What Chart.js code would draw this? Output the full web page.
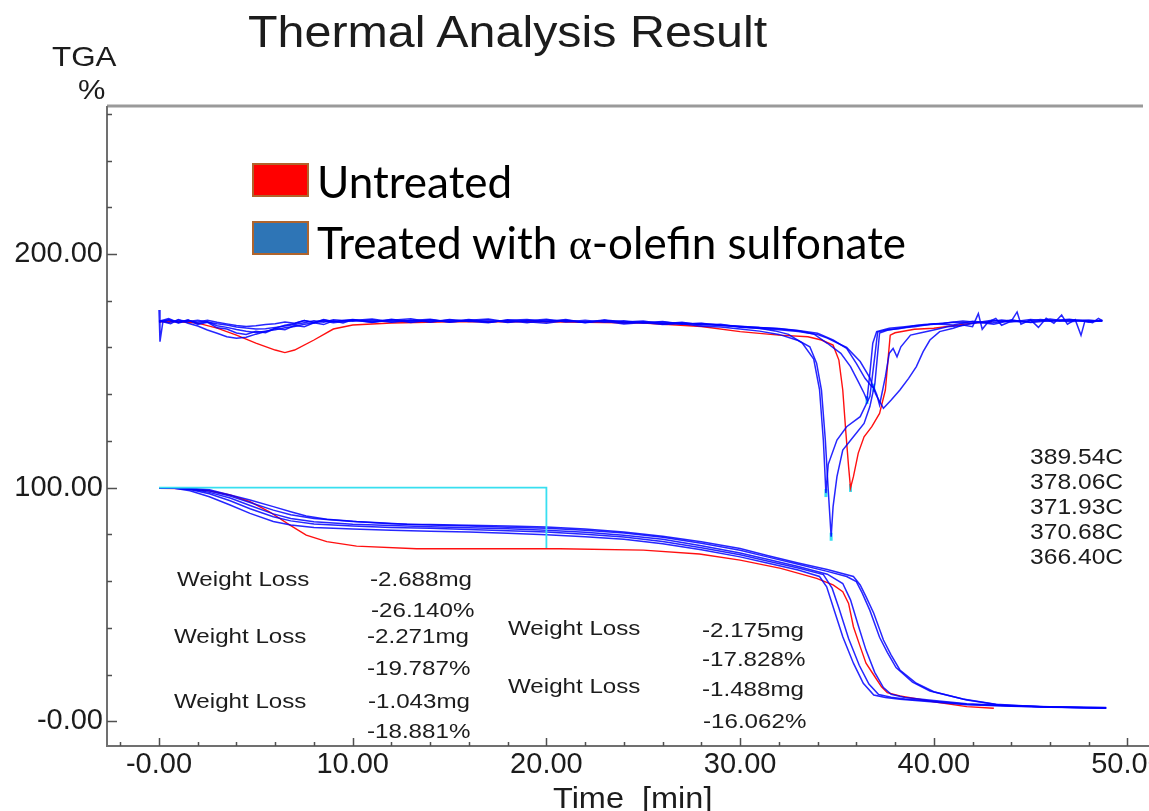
<!DOCTYPE html>
<html>
<head>
<meta charset="utf-8">
<title>Thermal Analysis Result</title>
<script src="https://cdn.jsdelivr.net/npm/chart.js@4.4.1/dist/chart.umd.min.js"></script>
<style>
  body { margin: 0; background: #fff; overflow: hidden; }
  #wrap { position: relative; width: 1149px; height: 811px; }
  #tga { position: absolute; left: 0; top: 0; }
  .t { position: absolute; white-space: pre; line-height: 1; color: #1c1c1c;
       font-family: 'Liberation Sans', Arial, sans-serif; transform-origin: 0 0; }
  .wl { font-size: 21px; transform: scaleX(1.15); }
  .tc { font-size: 22px; transform: scaleX(1.12); }
  .box { position: absolute; width: 57px; height: 34px; box-sizing: border-box; border: 2px solid #b0642c; }
  .lg { position: absolute; white-space: pre; line-height: 1; font-family: Lato, 'Open Sans', sans-serif;
        font-size: 44px; color: #000; }
</style>
</head>
<body>
<div id="wrap">
  <canvas id="tga" width="1149" height="811"></canvas>

  <div class="t" style="left:248px;top:10px;font-size:44px;transform:scaleX(1.1)">Thermal Analysis Result</div>
  <div class="t" style="left:52px;top:43px;font-size:28px;transform:scaleX(1.12)">TGA</div>
  <div class="t" style="left:78px;top:76px;font-size:28px;transform:scaleX(1.1)">%</div>
  <div class="t" style="left:553px;top:784px;font-size:29px;transform:scaleX(1.12)">Time  [min]</div>

  <div class="box" style="left:252px;top:163px;background:#ff0000"></div>
  <div class="box" style="left:252px;top:221px;background:#2e75b6"></div>
  <div class="lg" style="left:317px;top:159px">Untreated</div>
  <div class="lg" style="left:317px;top:220px">Treated with <span style="font-family:'Liberation Serif',serif">α</span>-olefin sulfonate</div>

  <div class="t wl" style="left:177px;top:568px">Weight Loss</div>
  <div class="t wl" style="left:370px;top:568px">-2.688mg</div>
  <div class="t wl" style="left:371px;top:599px">-26.140%</div>
  <div class="t wl" style="left:174px;top:625px">Weight Loss</div>
  <div class="t wl" style="left:367px;top:625px">-2.271mg</div>
  <div class="t wl" style="left:367px;top:657px">-19.787%</div>
  <div class="t wl" style="left:174px;top:690px">Weight Loss</div>
  <div class="t wl" style="left:368px;top:690px">-1.043mg</div>
  <div class="t wl" style="left:367px;top:720px">-18.881%</div>
  <div class="t wl" style="left:508px;top:617px">Weight Loss</div>
  <div class="t wl" style="left:508px;top:675px">Weight Loss</div>
  <div class="t wl" style="left:702px;top:619px">-2.175mg</div>
  <div class="t wl" style="left:702px;top:648px">-17.828%</div>
  <div class="t wl" style="left:702px;top:678px">-1.488mg</div>
  <div class="t wl" style="left:703px;top:710px">-16.062%</div>

  <div class="t tc" style="left:1030px;top:446px">389.54C</div>
  <div class="t tc" style="left:1030px;top:471px">378.06C</div>
  <div class="t tc" style="left:1030px;top:496px">371.93C</div>
  <div class="t tc" style="left:1030px;top:521px">370.68C</div>
  <div class="t tc" style="left:1030px;top:546px">366.40C</div>
</div>

<script>
// axis ticks: minor every 2 min / 20 %, labelled majors
const timeTicks = [-2, 0, 2, 4, 6, 8, 10, 12, 14, 16, 18, 20, 22, 24, 26, 28, 30, 32, 34, 36, 38, 40, 42, 44, 46, 48, 50];
const timeMajor = [0, 10, 20, 30, 40, 50];
const timeMajorLabels = ['-0.00', '10.00', '20.00', '30.00', '40.00', '50.00'];
const tgaTicks = [0, 20, 40, 60, 80, 100, 120, 140, 160, 180, 200, 220, 240, 260];
const tgaMajor = [0, 100, 200];
const tgaMajorLabels = ['-0.00', '100.00', '200.00'];

// derivative traces (plotted offset around 171) - [time min, value]
const redDtg = [[0,171.0],[1,171.0],[2,170.4],[3,168.3],[4,165.3],[5,161.9],[6,158.9],[6.5,157.8],[7,158.9],[8,163.2],[9,167.9],[10,169.6],[12,170.5],[15,171.0],[20,171.0],[25,170.5],[28,169.0],[30,166.8],[32,165.3],[33.5,164.6],[34.2,163.2],[34.8,161.0],[35.1,154.6],[35.3,141.8],[35.45,124.7],[35.6,109.0],[35.7,99.9],[35.85,104.7],[36.1,114.8],[36.4,121.8],[36.8,126.1],[37.2,131.8],[37.5,141.8],[37.65,156.0],[37.75,165.3],[38,166.3],[39,167.8],[40,168.2],[42,170.4],[43,171.0]];

const blueDtgA = [[0,171.2],[0.5,172.4],[1,170.6],[1.5,171.8],[2,169.9],[2.5,170.8],[3,168.4],[3.5,167.9],[4,166.2],[4.5,165.6],[5,166.9],[5.5,166.3],[6,168.1],[6.5,167.6],[7,169.4],[7.5,168.9],[8,170.6],[8.5,169.8],[9,171.4],[9.5,170.5],[10,171.8],[11,170.7],[12,172.1],[13,171.0],[14,171.9],[15,170.8],[16,171.6],[17,172.2],[18,170.9],[19,171.7],[20,171.1],[21,172.0],[22,170.6],[23,171.5],[24,170.9],[25,171.3],[26,170.2],[27,170.8],[28,169.6],[29,169.9],[30,168.7],[31,168.2],[31.8,167.1],[32.5,165.6],[33.2,162.0],[33.8,155.0],[34.1,142.0],[34.3,120.0],[34.43,97.7],[34.55,110.0],[35.0,120.4],[35.5,126.1],[36.2,130.4],[36.7,139.0],[36.95,156.0],[37.1,166.6],[37.6,167.6],[38.2,168.0],[39,169.3],[40,169.9],[41,170.8],[42,170.4],[43,171.6],[44,170.9],[45,172.0],[46,171.2],[47,171.9],[48,171.0],[48.7,171.6]];

const blueDtgB = [[0,176.0],[0.05,162.5],[0.2,171.0],[0.6,170.2],[1,171.9],[1.5,170.4],[2,169.2],[2.5,167.5],[3,166.1],[3.5,164.6],[4,164.0],[4.5,164.4],[5,165.7],[5.5,166.8],[6,168.2],[6.5,169.5],[7,170.3],[7.5,171.5],[8,170.6],[8.5,172.0],[9,171.1],[10,171.9],[11,170.8],[12,171.6],[13,172.3],[14,170.9],[15,171.8],[16,171.2],[17,170.6],[18,171.9],[19,171.0],[20,170.4],[21,171.5],[22,170.8],[23,171.2],[24,170.1],[25,170.7],[26,169.8],[27,170.2],[28,169.1],[29,168.8],[30,167.9],[31,167.0],[32,165.6],[33,163.0],[33.6,160.3],[33.95,153.3],[34.2,141.8],[34.4,120.4],[34.55,99.0],[34.7,79.0],[34.8,91.9],[35.0,104.7],[35.3,116.1],[35.85,121.8],[36.4,127.5],[36.7,134.7],[36.96,144.7],[37.2,166.2],[37.6,167.4],[38.3,168.3],[39,168.9],[40,170.1],[41,169.6],[42,171.2],[43,170.5],[44,171.8],[45,170.7],[46,171.4],[47,172.1],[48,170.9],[48.7,171.4]];

const blueDtgC = [[0,170.8],[0.5,171.9],[1,170.9],[1.5,171.6],[2,170.4],[2.5,171.0],[3,169.3],[3.5,168.6],[4,167.7],[4.5,166.9],[5,166.4],[5.5,167.0],[6,167.6],[6.5,168.4],[7,169.0],[7.5,169.9],[8,170.5],[8.5,171.3],[9,170.6],[10,171.5],[11,172.2],[12,171.0],[13,171.7],[14,170.9],[15,172.0],[16,171.1],[17,171.8],[18,170.7],[19,171.4],[20,172.1],[21,170.9],[22,171.6],[23,170.8],[24,171.4],[25,170.5],[26,170.9],[27,170.1],[28,170.4],[29,169.5],[30,169.0],[31,168.6],[32,168.0],[33,167.2],[33.8,165.8],[34.5,161.8],[35.2,157.5],[35.7,151.8],[36.1,145.4],[36.4,140.4],[36.55,137.5],[36.7,149.0],[36.85,161.8],[37.05,166.8],[37.7,168.2],[38.5,168.9],[39.5,169.8],[40.5,170.4],[41.5,171.3],[42.5,170.6],[43.5,171.8],[44.5,170.9],[45.5,172.0],[46.5,171.2],[47.5,171.8],[48.7,171.3]];

const blueDtgD = [[0,171.5],[0.5,170.7],[1,171.8],[1.5,171.1],[2,171.6],[2.5,170.9],[3,170.2],[3.5,169.6],[4,168.8],[4.5,168.3],[5,167.9],[5.5,168.0],[6,168.6],[6.5,169.2],[7,169.8],[7.5,170.6],[8,171.4],[8.5,170.8],[9,171.9],[10,171.2],[11,171.8],[12,170.8],[13,171.5],[14,172.1],[15,170.9],[16,171.6],[17,170.8],[18,171.7],[19,172.0],[20,171.0],[21,171.6],[22,170.9],[23,171.8],[24,171.0],[25,170.6],[26,171.1],[27,170.0],[28,170.3],[29,169.6],[30,169.1],[31,168.5],[32,168.1],[33,167.3],[34,166.1],[34.8,163.2],[35.5,159.6],[36,153.2],[36.45,146.8],[36.8,143.2],[36.9,142.8],[37.05,140.0],[37.2,135.4],[37.5,147.5],[37.7,157.5],[37.9,159.6],[38.1,156.0],[38.3,160.3],[38.8,165.3],[39.4,166.4],[40,167.5],[40.7,168.9],[41.5,169.4],[42.3,170.8],[43.1,169.9],[44,171.6],[45,170.8],[46,172.2],[47,171.0],[48,171.7],[48.7,171.2]];

const blueDtgE = [[0,171.0],[0.5,171.7],[1,170.5],[1.5,171.4],[2,170.9],[2.5,171.6],[3,170.8],[3.5,170.1],[4,169.4],[4.5,169.0],[5,169.3],[5.5,169.8],[6,170.2],[6.5,170.9],[7,170.4],[7.5,171.5],[8,170.8],[8.5,171.7],[9,171.0],[10,172.0],[11,171.1],[12,171.9],[13,170.7],[14,171.6],[15,171.2],[16,172.0],[17,170.9],[18,171.5],[19,170.6],[20,171.8],[21,171.2],[22,170.7],[23,171.6],[24,170.5],[25,171.0],[26,170.3],[27,170.6],[28,169.8],[29,169.4],[30,168.9],[31,168.1],[32,167.6],[33,166.8],[34,165.5],[34.5,164.0],[35.5,160.0],[36.2,154.0],[36.7,147.0],[37.0,140.0],[37.4,134.0],[37.8,137.5],[38.25,141.8],[38.7,146.8],[39.1,151.8],[39.45,158.2],[39.8,163.2],[40.3,166.8],[41,168.2],[41.5,169.6],[42,168.9],[42.3,174.5],[42.5,167.8],[42.8,170.9],[43.2,172.4],[43.5,169.5],[44,171.3],[44.3,175.2],[44.5,170.0],[45,171.8],[45.4,168.6],[45.8,172.5],[46.2,170.4],[46.6,173.9],[46.9,169.9],[47.3,171.9],[47.6,165.2],[47.8,171.3],[48.2,170.6],[48.5,172.4],[48.7,171.5]];

// weight curves (%)
const redTga = [[0,99.7],[1,99.6],[1.6,99.3],[2.6,98.7],[3.67,96.9],[4.7,94.0],[5.7,89.7],[6.76,84.0],[7.6,79.7],[8.66,76.9],[10.2,75.0],[13.3,73.9],[20.7,73.9],[25,73.3],[27.9,71.6],[30,69.0],[32.1,65.5],[33.95,61.2],[34.8,58.4],[35.3,55.5],[35.6,50.5],[35.85,40.5],[36.2,32.0],[36.5,24.9],[36.96,19.1],[37.3,14.8],[37.6,12.3],[38.25,10.9],[40,8.4],[41.7,6.3],[43.1,5.6]];

const blueTga1 = [[0,100],[0.8,99.8],[1.6,98.7],[2.6,96.1],[3.67,92.6],[4.7,89.0],[5.9,85.5],[6.8,84.0],[8,83.0],[10,82.3],[12,81.8],[14,81.4],[16,81.0],[18,80.5],[20,79.9],[22,79.0],[24,77.9],[26,76.0],[28,73.4],[30,70.4],[31.4,67.8],[33,64.8],[34.1,62.0],[34.47,57.6],[34.8,49.1],[35.3,36.2],[35.85,24.9],[36.36,16.3],[36.9,11.3],[37.5,10.2],[38.25,9.5],[40,8.3],[41.7,7.1],[44,6.5],[46,6.1],[48.9,5.7]];
const blueTga2 = [[0,100],[0.8,99.8],[1.6,99.2],[2.6,97.4],[3.67,94.4],[4.7,91.0],[5.9,87.6],[6.8,85.8],[8,84.5],[10,83.6],[12,83.0],[14,82.6],[16,82.1],[18,81.6],[20,81.0],[22,80.1],[24,78.9],[26,77.0],[28,74.3],[30,71.3],[31.4,68.6],[33,65.6],[34.3,62.8],[34.75,57.0],[35.1,48.5],[35.6,35.5],[36.15,24.0],[36.65,16.0],[37.15,11.5],[37.8,10.3],[38.5,9.6],[40,8.6],[41.7,7.3],[44,6.6],[46,6.2],[48.9,5.8]];
const blueTga3 = [[0,100],[0.8,99.9],[1.6,99.4],[2.6,98.0],[3.67,95.6],[4.7,92.4],[5.9,88.8],[6.8,86.8],[8,85.4],[10,84.4],[12,83.8],[14,83.3],[16,82.9],[18,82.4],[20,81.8],[22,80.9],[24,79.7],[26,77.9],[28,75.2],[30,72.1],[31.4,69.4],[33,66.3],[34.5,63.0],[35.3,59.0],[35.7,52.0],[36.1,41.0],[36.5,30.5],[36.95,21.0],[37.4,14.5],[37.8,11.6],[38.5,10.2],[40,8.9],[41.7,7.5],[44,6.7],[46,6.3],[48.9,5.9]];
const blueTga4 = [[0,100],[0.8,99.9],[1.6,99.6],[2.6,98.6],[3.67,96.4],[4.7,93.7],[5.9,90.4],[6.8,88.4],[8,86.8],[10,85.5],[12,84.6],[14,84.0],[16,83.6],[18,83.1],[20,82.6],[22,81.8],[24,80.6],[26,78.8],[28,76.2],[30,73.2],[31.4,70.4],[33,67.2],[34.5,64.2],[35.5,62.0],[36.0,59.8],[36.3,55.0],[36.7,47.5],[37.2,36.0],[37.6,29.5],[38.05,23.0],[38.9,16.8],[39.8,13.0],[41.5,9.6],[43.2,7.3],[45.5,6.3],[48.9,5.6]];
const blueTga5 = [[0,100],[0.8,100],[1.6,99.8],[2.6,99.1],[3.67,96.9],[4.7,94.7],[5.9,91.9],[6.8,89.7],[7.6,87.9],[8.66,86.5],[10.2,85.5],[12.8,84.4],[14,84.2],[16,83.9],[18,83.6],[20,83.2],[22,82.3],[24,81.0],[26,79.2],[28,76.9],[30,74.0],[31.4,71.0],[33,67.8],[34.5,65.0],[35.85,62.0],[36.2,58.4],[36.5,53.4],[36.9,46.3],[37.4,34.8],[37.8,28.4],[38.25,22.0],[39.1,16.3],[40,12.7],[41.7,9.2],[43.4,7.0],[46,6.2],[48.9,5.6]];

// analysis range marker and the picked peak minima
const rangeStep = [[0,100],[20,100],[20,74.2]];
const peakMarks = [[34.43,97.7],[34.7,79.0],[35.7,99.9],[36.55,137.5],[36.9,142.8]];

const pts = arr => arr.map(([x, y]) => ({ x, y }));

const BLUE = 'rgba(0, 0, 255, 0.85)';
const RED = '#ff1010';
const CYAN = '#38dff0';

function trace(data, color, width) {
  return { data: pts(data), borderColor: color, borderWidth: width, pointRadius: 0, fill: false, tension: 0 };
}

const datasets = [
  trace(rangeStep, CYAN, 1.8),
  trace(blueTga1, BLUE, 1.5),
  trace(blueTga2, BLUE, 1.5),
  trace(blueTga3, BLUE, 1.5),
  trace(blueTga4, BLUE, 1.5),
  trace(blueTga5, BLUE, 1.5),
  trace(blueDtgA, BLUE, 1.5),
  trace(blueDtgB, BLUE, 1.5),
  trace(blueDtgC, BLUE, 1.5),
  trace(blueDtgD, BLUE, 1.5),
  trace(blueDtgE, BLUE, 1.5),
  trace(redTga, RED, 1.4),
  trace(redDtg, RED, 1.4),
  {
    data: pts(peakMarks), showLine: false, pointStyle: 'line', rotation: 90,
    pointRadius: 4, pointBorderWidth: 3, pointBorderColor: CYAN, pointBackgroundColor: CYAN
  }
];

// frame lines and inward tick marks
const frameAndTicks = {
  id: 'frameAndTicks',
  afterDraw(chart) {
    const { ctx, chartArea: a, scales: { x, y } } = chart;
    ctx.save();
    ctx.strokeStyle = '#9a9a9a';
    ctx.lineWidth = 3;
    ctx.beginPath();
    ctx.moveTo(a.left, a.top);
    ctx.lineTo(a.right - 6, a.top);
    ctx.stroke();

    ctx.strokeStyle = '#707070';
    ctx.lineWidth = 2;
    ctx.beginPath();
    ctx.moveTo(a.left, a.top);
    ctx.lineTo(a.left, a.bottom);
    ctx.lineTo(a.right, a.bottom);
    ctx.stroke();

    ctx.strokeStyle = '#505050';
    ctx.lineWidth = 1.5;
    ctx.beginPath();
    x.ticks.forEach(t => {
      const px = Math.round(x.getPixelForValue(t.value)) + 0.5;
      const len = timeMajor.includes(t.value) ? 8 : 4;
      ctx.moveTo(px, a.bottom);
      ctx.lineTo(px, a.bottom - len);
    });
    y.ticks.forEach(t => {
      const py = Math.round(y.getPixelForValue(t.value)) + 0.5;
      const len = tgaMajor.includes(t.value) ? 10 : 5;
      ctx.moveTo(a.left, py);
      ctx.lineTo(a.left + len, py);
    });
    ctx.stroke();
    ctx.restore();
  }
};

const tickFont = { family: "'Liberation Sans', Arial, sans-serif", size: 29 };

new Chart(document.getElementById('tga'), {
  type: 'line',
  data: { datasets },
  options: {
    responsive: false,
    animation: false,
    events: [],
    layout: { autoPadding: false, padding: { top: 106, right: 0, bottom: 0, left: 0 } },
    plugins: { legend: { display: false }, tooltip: { enabled: false }, title: { display: false } },
    scales: {
      x: {
        type: 'linear',
        min: -2.685,
        max: 51.11,
        grid: { display: false, drawTicks: false },
        border: { display: false },
        afterBuildTicks: scale => { scale.ticks = timeTicks.map(v => ({ value: v })); },
        afterFit: scale => {
          scale.height = 65;
          scale.paddingLeft = 0;
          scale.paddingRight = 0;
        },
        ticks: {
          autoSkip: false, maxRotation: 0, padding: 2, color: '#1c1c1c', font: tickFont,
          callback: v => { const i = timeMajor.indexOf(v); return i >= 0 ? timeMajorLabels[i] : ''; }
        }
      },
      y: {
        type: 'linear',
        min: -10.53,
        max: 263.33,
        grid: { display: false, drawTicks: false },
        border: { display: false },
        afterBuildTicks: scale => { scale.ticks = tgaTicks.map(v => ({ value: v })); },
        afterFit: scale => {
          scale.width = 107;
          scale.paddingTop = 0;
          scale.paddingBottom = 0;
        },
        ticks: {
          autoSkip: false, padding: 4, color: '#1c1c1c', font: tickFont,
          callback: v => { const i = tgaMajor.indexOf(v); return i >= 0 ? tgaMajorLabels[i] : ''; }
        }
      }
    }
  },
  plugins: [frameAndTicks]
});
</script>
</body>
</html>
